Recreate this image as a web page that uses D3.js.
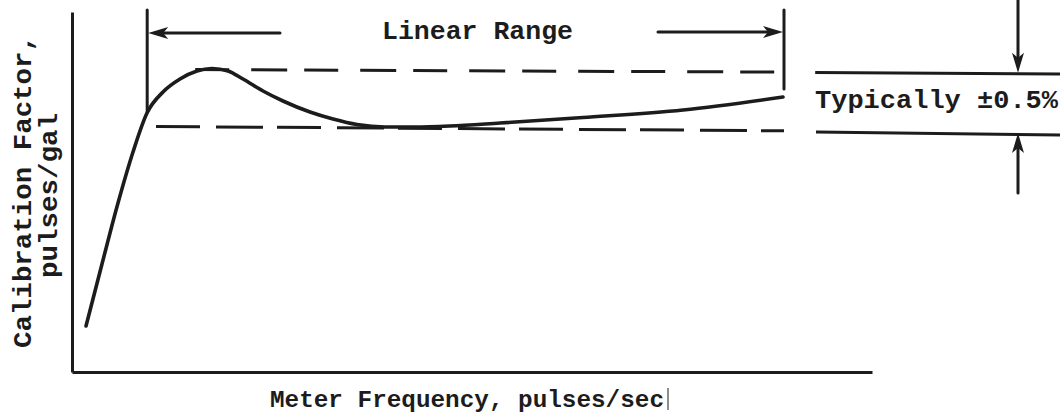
<!DOCTYPE html>
<html>
<head>
<meta charset="utf-8">
<script src="https://cdn.jsdelivr.net/npm/d3@7"></script>
<style>
  html, body { margin: 0; padding: 0; background: #fff; }
  svg { display: block; }
  text { font-family: "Liberation Mono", "Courier New", Courier, monospace; font-weight: bold; fill: #1c1c1c; }
</style>
</head>
<body>
<svg id="chart" width="1060" height="416"></svg>
<script>
// Meter response curve: calibration factor vs. meter frequency (relative units)
const frequency = [1.75, 3.75, 5.75, 7.625, 9.375, 11.375, 13.5, 15.625, 17.5, 19.5, 21.375, 23.875, 26.375, 29.75, 32.625, 35.625, 39.125, 42.875, 47.25, 53.5, 63.875, 76.375, 88.875];
const calFactor = [12.78, 30.0, 46.94, 61.11, 71.94, 77.78, 81.39, 83.61, 84.31, 83.61, 81.39, 78.06, 75.28, 72.22, 70.28, 68.75, 68.06, 68.06, 68.33, 69.17, 70.69, 72.78, 76.39];

// Linear range limits (frequency) and the tolerance band edges
const linearRange = [9.4, 89.0];
const bandUpperX = [15.4, 89.0];
const bandUpperY = [84.0, 83.3];
const bandLowerX = [10.5, 89.0];
const bandLowerY = [68.2, 67.0];
const tolUpperX = [92.9, 123.5];
const tolUpperY = [83.2, 82.8];
const tolLowerX = [93.0, 123.5];
const tolLowerY = [66.7, 65.8];

const labels = {
  range: "Linear Range",
  tolerance: "Typically \u00b10.5%",
  xTitle: "Meter Frequency,  pulses/sec",
  yTitle1: "Calibration Factor,",
  yTitle2: "pulses/gal"
};

const ink = "#1c1c1c";
const svg = d3.select("#chart");
const x = d3.scaleLinear().domain([0, 100]).range([72, 872]);
const y = d3.scaleLinear().domain([0, 100]).range([372, 12]);

// Axes (no ticks, only the axis lines)
svg.append("g")
  .attr("transform", `translate(0,${y(0)})`)
  .call(d3.axisBottom(x).tickValues([]).tickSizeOuter(0))
  .call(g => g.select(".domain").attr("stroke", ink).attr("stroke-width", 3));
svg.append("g")
  .attr("transform", `translate(${x(0)},0)`)
  .call(d3.axisLeft(y).tickValues([]).tickSizeOuter(0))
  .call(g => g.select(".domain").attr("stroke", ink).attr("stroke-width", 3));

const line2 = (xs, ys) => d3.line()(xs.map((v, i) => [x(v), y(ys[i])]));

// Tolerance band (dashed) across the linear range
svg.append("path").attr("d", line2(bandUpperX, bandUpperY))
  .attr("fill", "none").attr("stroke", ink).attr("stroke-width", 3)
  .attr("stroke-dasharray", "34,22,36,17");
svg.append("path").attr("d", line2(bandLowerX, bandLowerY))
  .attr("fill", "none").attr("stroke", ink).attr("stroke-width", 3)
  .attr("stroke-dasharray", "44,16,47,14");

// Calibration curve
svg.append("path")
  .datum(frequency.map((f, i) => [f, calFactor[i]]))
  .attr("d", d3.line().x(d => x(d[0])).y(d => y(d[1])).curve(d3.curveMonotoneX))
  .attr("fill", "none").attr("stroke", ink).attr("stroke-width", 3.6)
  .attr("stroke-linecap", "round");

// Linear range boundaries
svg.append("line").attr("x1", x(linearRange[0])).attr("x2", x(linearRange[0]))
  .attr("y1", 10).attr("y2", 112).attr("stroke", ink).attr("stroke-width", 3).attr("stroke-linecap", "round");
svg.append("line").attr("x1", x(linearRange[1])).attr("x2", x(linearRange[1]))
  .attr("y1", 10).attr("y2", 89).attr("stroke", ink).attr("stroke-width", 3).attr("stroke-linecap", "round");

// Arrow helper: shaft from (x1,y1) to tip (x2,y2) with filled head
function arrow(x1, y1, x2, y2, len = 20, half = 6) {
  const a = Math.atan2(y2 - y1, x2 - x1);
  const bx = x2 - len * Math.cos(a), by = y2 - len * Math.sin(a);
  svg.append("line").attr("x1", x1).attr("y1", y1).attr("x2", bx + 4 * Math.cos(a)).attr("y2", by + 4 * Math.sin(a))
    .attr("stroke", ink).attr("stroke-width", 3).attr("stroke-linecap", "round");
  const px = -Math.sin(a), py = Math.cos(a);
  const head = [[x2, y2], [bx + half * px, by + half * py],
    [bx + 5 * Math.cos(a), by + 5 * Math.sin(a)], [bx - half * px, by - half * py]];
  svg.append("path").attr("d", d3.line()(head) + "Z").attr("fill", ink);
}

const topY = 33;
arrow(280, topY, x(linearRange[0]) + 1, topY);
arrow(658, topY - 1, x(linearRange[1]) - 1, topY - 1);

svg.append("text").attr("x", 382).attr("y", 39)
  .attr("font-size", 25).attr("textLength", 191).attr("lengthAdjust", "spacingAndGlyphs")
  .text(labels.range);

// Tolerance markers on the right
svg.append("path").attr("d", line2(tolUpperX, tolUpperY))
  .attr("fill", "none").attr("stroke", ink).attr("stroke-width", 3);
svg.append("path").attr("d", line2(tolLowerX, tolLowerY))
  .attr("fill", "none").attr("stroke", ink).attr("stroke-width", 3);
const tolX = x(118.25);
arrow(tolX, 0, tolX, y(83.1));
arrow(tolX, 193, tolX, y(66.4));

svg.append("text").attr("x", 815).attr("y", 108)
  .attr("font-size", 25).attr("textLength", 243).attr("lengthAdjust", "spacingAndGlyphs")
  .text(labels.tolerance);

// Axis titles
svg.append("text").attr("x", 270).attr("y", 407)
  .attr("font-size", 24).attr("textLength", 394).attr("lengthAdjust", "spacingAndGlyphs")
  .text(labels.xTitle);
svg.append("line").attr("x1", 668).attr("x2", 668).attr("y1", 388).attr("y2", 410)
  .attr("stroke", "#444").attr("stroke-width", 1.2);

svg.append("text").attr("transform", "translate(31,348) rotate(-90)")
  .attr("font-size", 25).attr("textLength", 313).attr("lengthAdjust", "spacingAndGlyphs")
  .text(labels.yTitle1);
svg.append("text").attr("transform", "translate(57,278) rotate(-90)")
  .attr("font-size", 25).attr("textLength", 165).attr("lengthAdjust", "spacingAndGlyphs")
  .text(labels.yTitle2);
</script>
</body>
</html>
